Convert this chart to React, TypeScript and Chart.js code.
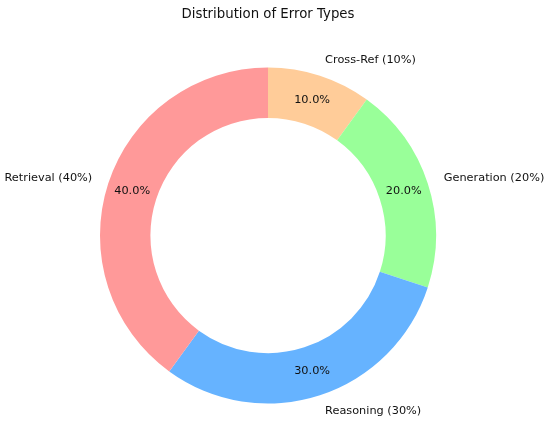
import React, { useEffect, useRef } from "react";
import { Chart, registerables } from "chart.js";

Chart.register(...registerables);

// Data (matplotlib draws counter-clockwise from top; Chart.js clockwise, so order reversed)
const categories = ["Retrieval", "Reasoning", "Generation", "Cross-Ref"];
const values = [40, 30, 20, 10];
const colors = ["#ff9999", "#66b3ff", "#99ff99", "#ffcc99"];
const titleText = "Distribution of Error Types";

const FONT = "'DejaVu Sans', sans-serif";

const labelPlugin = {
  id: "pieLabels",
  afterDraw(chart: any) {
    const ctx = chart.ctx;
    const meta = chart.getDatasetMeta(0);
    const total = values.reduce((a, b) => a + b, 0);
    ctx.save();
    ctx.fillStyle = "#111";
    ctx.textBaseline = "middle";
    // title
    ctx.font = `13.3px ${FONT}`;
    ctx.textAlign = "center";
    ctx.fillText(titleText, 268, 15);
    ctx.font = `11.3px ${FONT}`;
    meta.data.forEach((arc: any, i: number) => {
      const { x, y, startAngle, endAngle, outerRadius } = arc.getProps(
        ["x", "y", "startAngle", "endAngle", "outerRadius"],
        true
      );
      const mid = (startAngle + endAngle) / 2;
      const cos = Math.cos(mid);
      const sin = Math.sin(mid);
      const name = chart.data.labels[i];
      const v = chart.data.datasets[0].data[i];
      // percentage
      ctx.textAlign = "center";
      const pr = outerRadius * 0.85;
      ctx.fillText(((v / total) * 100).toFixed(1) + "%", x + cos * pr, y + sin * pr);
      // outer label
      const lr = outerRadius * 1.1;
      ctx.textAlign = cos >= 0 ? "left" : "right";
      ctx.fillText(`${name} (${v}%)`, x + cos * lr, y + sin * lr);
    });
    ctx.restore();
  },
};

export default function App() {
  const ref = useRef<HTMLCanvasElement>(null);
  useEffect(() => {
    if (!ref.current) return;
    const order = [3, 2, 1, 0];
    const chart = new Chart(ref.current, {
      type: "doughnut",
      data: {
        labels: order.map((i) => categories[i]),
        datasets: [
          {
            data: order.map((i) => values[i]),
            backgroundColor: order.map((i) => colors[i]),
            borderWidth: 0,
          },
        ],
      },
      options: {
        responsive: false,
        animation: false,
        cutout: "70%",
        rotation: 0,
        layout: { padding: { left: 100, right: 114, top: 67, bottom: 17 } },
        plugins: {
          legend: { display: false },
          title: { display: false },
          tooltip: { enabled: false },
        },
      },
      plugins: [labelPlugin],
    });
    return () => chart.destroy();
  }, []);
  return (
    <div style={{ position: "fixed", left: 0, top: 0, width: 550, height: 421, background: "#fff" }}>
      <canvas ref={ref} width={550} height={421} style={{ width: 550, height: 421 }} />
    </div>
  );
}
